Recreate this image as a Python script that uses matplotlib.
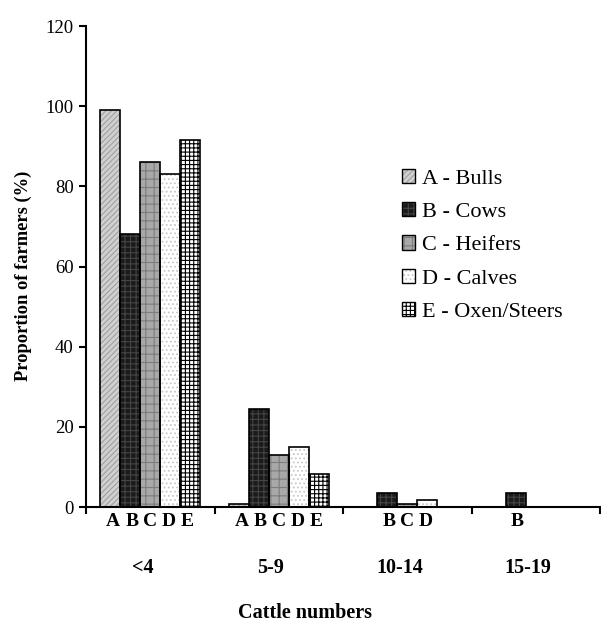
import matplotlib
matplotlib.use("Agg")
import matplotlib.pyplot as plt
from matplotlib.patches import Patch
from matplotlib.legend_handler import HandlerTuple
import matplotlib.transforms as mtransforms

plt.rcParams['font.family'] = ['Liberation Serif', 'DejaVu Serif']
plt.rcParams['hatch.linewidth'] = 0.8

groups = ['<4', '5-9', '10-14', '15-19']
letters = ['A', 'B', 'C', 'D', 'E']
names = ['A - Bulls', 'B - Cows', 'C - Heifers', 'D - Calves', 'E - Oxen/Steers']
# None = no bar in that group
bulls = [99, 0.8, None, None]
cows = [68, 24.5, 3.5, 3.5]
heifers = [86, 13, 0.8, None]
calves = [83, 15, 1.7, None]
oxen = [91.5, 8.3, None, None]
series = [bulls, cows, heifers, calves, oxen]

# face colour, hatch colour, hatch
styles = [
    ('#d0d0d0', '#a0a0a0', '//////'),
    ('#1a1a1a', '#444444', '+++'),
    ('#a8a8a8', '#7c7c7c', '++'),
    ('#ffffff', '#c8c8c8', '....'),
    ('#ffffff', '#000000', '++++'),
]

fig = plt.figure(figsize=(6.01, 6.23), dpi=100)
ax = fig.add_axes([86 / 601, 1 - 507 / 623, 514 / 601, 481 / 623])

width = 0.155
for j, vals in enumerate(series):
    fc, hc, hatch = styles[j]
    xs, hs = [], []
    for i, v in enumerate(vals):
        if v is None:
            continue
        xs.append(i + 0.5 + (j - 2) * width)
        hs.append(v)
    ax.bar(xs, hs, width, color=fc, edgecolor=hc, hatch=hatch, linewidth=0, zorder=2)
    ax.bar(xs, hs, width, facecolor='none', edgecolor='black', linewidth=1.2, zorder=3)

# letters under bars
trans = mtransforms.blended_transform_factory(ax.transData, ax.transAxes)
for j, vals in enumerate(series):
    for i, v in enumerate(vals):
        if v is None:
            continue
        ax.text(i + 0.5 + (j - 2) * width * 0.93, -0.031, letters[j], transform=trans,
                ha='center', va='center', fontsize=14, fontweight='bold')
for i, g in enumerate(groups):
    ax.text(i + 0.44, -0.127, g, transform=trans, ha='center', va='center',
            fontsize=14.5, fontweight='bold')

fig.text(305 / 601, 5 / 623, 'Cattle numbers', ha='center', va='baseline',
         fontsize=14.5, fontweight='bold')
fig.text(23 / 601, 1 - 276 / 623, 'Proportion of farmers (%)', rotation=90,
         ha='center', va='center', fontsize=13.3, fontweight='bold')

ax.set_xlim(0, 4)
ax.set_ylim(0, 120)
ax.set_yticks(range(0, 121, 20))
ax.set_xticks(range(0, 5))
ax.set_xticklabels([])
ax.tick_params(axis='y', labelsize=13.5, width=1.5, length=5, direction='out', pad=4)
ax.tick_params(axis='x', width=1.5, length=5, direction='out')
for s in ['top', 'right']:
    ax.spines[s].set_visible(False)
for s in ['left', 'bottom']:
    ax.spines[s].set_linewidth(1.5)

handles = []
for fc, hc, hatch in styles:
    handles.append((Patch(facecolor=fc, edgecolor=hc, hatch=hatch, linewidth=0),
                    Patch(facecolor='none', edgecolor='black', linewidth=1)))
ax.legend(handles, names, handler_map={tuple: HandlerTuple(ndivide=1, pad=0)},
          loc='upper left', bbox_to_anchor=((402 - 86) / 514, (507 - 169) / 481),
          frameon=False, fontsize=16, handlelength=0.6, handleheight=0.6,
          handletextpad=0.3, labelspacing=0.6, borderpad=0, borderaxespad=0)

fig.savefig('out.png', dpi=100)
